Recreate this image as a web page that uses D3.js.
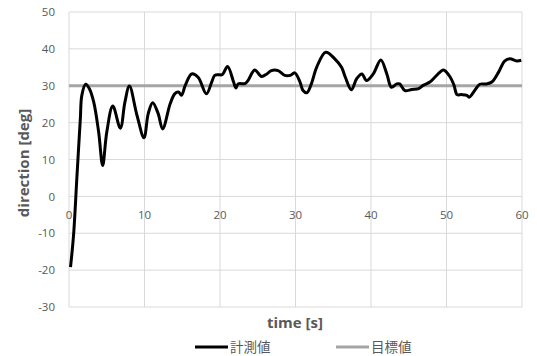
<!DOCTYPE html>
<html>
<head>
<meta charset="utf-8">
<script src="https://cdn.jsdelivr.net/npm/d3@7"></script>
<style>
  body { margin: 0; background: #fff; }
  svg text { font-family: "Open Sans", sans-serif; fill: #595959; }
  .jp { font-family: "Noto Sans CJK JP", sans-serif; }
</style>
</head>
<body>
<svg id="chart" width="537" height="356"></svg>
<script>
// measured direction (計測値)
const time = [0.2, 0.6, 1.06, 1.5, 1.7, 2.2, 2.7, 3.27, 3.93, 4.46, 5.0, 5.8, 6.8, 7.4, 8.0, 9.0, 9.93, 10.5, 11.08,
  11.8, 12.4, 13.4, 14.0, 14.5, 14.9, 15.4, 16.25, 17.1, 18.2, 18.9, 19.3, 19.8, 20.3, 21.0, 21.8, 22.1, 22.4, 23.3,
  23.7, 24.6, 25.5, 26.2, 26.8, 27.7, 28.6, 29.3, 29.9, 30.6, 31.0, 31.5, 32.1, 32.8, 34.0, 35.2, 36.1, 36.6, 37.4,
  38.1, 38.8, 39.4, 40.3, 41.3, 42.1, 42.7, 43.4, 43.8, 44.5, 45.4, 46.3, 46.9, 47.8, 48.7, 49.6, 50.5, 51.0, 51.4,
  52.0, 52.7, 53.0, 53.8, 54.4, 55.3, 56.0, 56.9, 57.7, 58.4, 59.3, 59.9];
const measured = [-19.2, -10.6, 5.7, 21, 27.4, 30.4, 29.2, 25.6, 17.4, 8.4, 17.4, 24.5, 18.5, 25.5, 29.9, 22, 15.9, 22.5, 25.4,
  22.5, 18.3, 25.1, 27.8, 28.3, 27.4, 30.1, 33.2, 32.3, 27.8, 31, 32.8, 33.0, 33.0, 35.2, 31, 29.4, 30.5, 30.6,
  31.4, 34.3, 32.5, 33.2, 34.1, 34.1, 32.8, 32.8, 33.5, 31, 28.7, 28.1, 30.5, 35, 39.1, 37.3, 35, 32.3, 28.9,
  31.9, 33.2, 31.4, 33.2, 37, 33.2, 29.6, 30.5, 30.5, 28.7, 29, 29.2, 30.1, 31, 32.8, 34.3, 32.3, 30.1, 27.6,
  27.6, 27.4, 26.9, 28.9, 30.4, 30.5, 31, 33.7, 36.7, 37.3, 36.7, 36.9];
// target direction (目標値)
const targetTime = [0, 60];
const targetValue = [30, 30];

const xTicks = [0, 10, 20, 30, 40, 50, 60];
const yTicks = [-30, -20, -10, 0, 10, 20, 30, 40, 50];
const seriesNames = ['計測値', '目標値'];

const svg = d3.select('#chart');
const plot = {left: 69, right: 522, top: 12, bottom: 307};

const x = d3.scaleLinear().domain([0, 60]).range([plot.left, plot.right]);
const y = d3.scaleLinear().domain([-30, 50]).range([plot.bottom, plot.top]);

// gridlines
svg.append('g')
  .selectAll('line')
  .data(yTicks)
  .enter()
  .append('line')
  .attr('x1', plot.left).attr('x2', plot.right)
  .attr('y1', d => y(d)).attr('y2', d => y(d))
  .attr('stroke', '#d9d9d9').attr('stroke-width', 1);

svg.append('g')
  .selectAll('line')
  .data(xTicks)
  .enter()
  .append('line')
  .attr('x1', d => x(d)).attr('x2', d => x(d))
  .attr('y1', plot.top).attr('y2', plot.bottom)
  .attr('stroke', '#d9d9d9').attr('stroke-width', 1);

// y axis labels
svg.append('g')
  .selectAll('text')
  .data(yTicks)
  .enter()
  .append('text')
  .attr('x', 55)
  .attr('y', d => y(d) + 4.2)
  .attr('text-anchor', 'end')
  .style('font-size', '11.5px')
  .text(d => d);

// x axis labels (sit under the zero line)
svg.append('g')
  .selectAll('text')
  .data(xTicks)
  .enter()
  .append('text')
  .attr('x', d => x(d))
  .attr('y', y(0) + 23)
  .attr('text-anchor', 'middle')
  .style('font-size', '11.5px')
  .text(d => d);

// target line
const targetData = targetTime.map((t, i) => [t, targetValue[i]]);
svg.append('path')
  .datum(targetData)
  .attr('fill', 'none')
  .attr('stroke', '#a5a5a5')
  .attr('stroke-width', 3)
  .attr('d', d3.line().x(d => x(d[0])).y(d => y(d[1])));

// measured line
const measData = time.map((t, i) => [t, measured[i]]);
svg.append('path')
  .datum(measData)
  .attr('fill', 'none')
  .attr('stroke', '#000')
  .attr('stroke-width', 3)
  .attr('stroke-linejoin', 'round')
  .attr('d', d3.line().curve(d3.curveCatmullRom.alpha(0.5)).x(d => x(d[0])).y(d => y(d[1])));

// axis titles
svg.append('text')
  .attr('transform', 'translate(29,163) rotate(-90)')
  .attr('text-anchor', 'middle')
  .style('font-size', '15px')
  .style('font-weight', 'bold')
  .text('direction [deg]');

svg.append('text')
  .attr('x', 295)
  .attr('y', 328)
  .attr('text-anchor', 'middle')
  .style('font-size', '15px')
  .style('font-weight', 'bold')
  .text('time [s]');

// legend
const legendX = [195, 336];
const legendColors = ['#000', '#a5a5a5'];
const lg = svg.append('g');
seriesNames.forEach((name, i) => {
  lg.append('line')
    .attr('x1', legendX[i]).attr('x2', legendX[i] + 33)
    .attr('y1', 347).attr('y2', 347)
    .attr('stroke', legendColors[i]).attr('stroke-width', 3);
  lg.append('text')
    .attr('class', 'jp')
    .attr('x', legendX[i] + 35)
    .attr('y', 352)
    .style('font-size', '13.5px')
    .text(name);
});
</script>
</body>
</html>
